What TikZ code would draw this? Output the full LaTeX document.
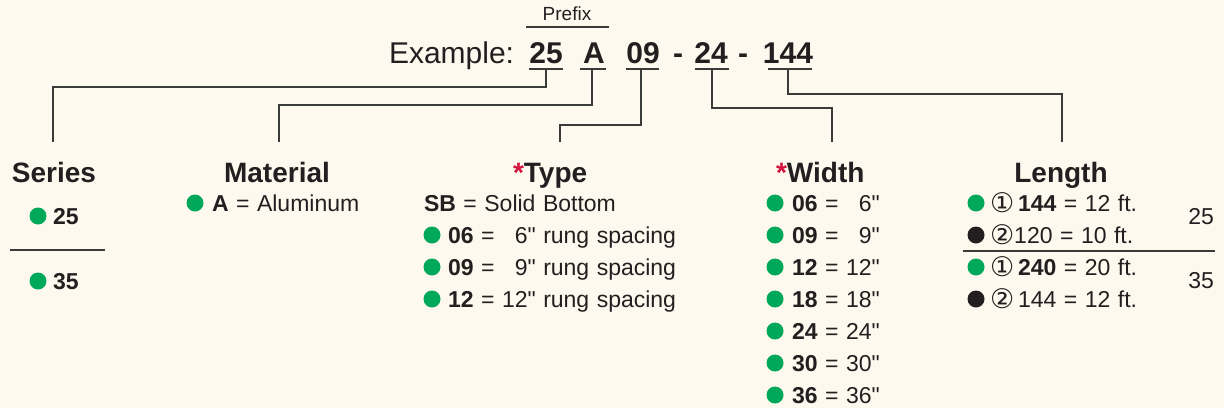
\documentclass[tikz,border=0pt]{standalone}
\usepackage{fontspec}
\setmainfont{Liberation Sans}
\newfontfamily\symfont{DejaVu Sans}
\newfontfamily\inchfont{Liberation Sans}
\newcommand\inchmark{{\inchfont"}}
\newcommand\entryfont{\fontsize{23}{23}\selectfont\spaceskip=7.5pt plus 1pt\relax}
\newcommand\circnum[1]{{\symfont\fontsize{27}{27}\selectfont\raisebox{-1pt}{#1}}}
\usetikzlibrary{calc}
\definecolor{bg}{HTML}{FDF9EE}
\definecolor{ink}{HTML}{231F20}
\definecolor{dotgreen}{HTML}{00A859}
\definecolor{starred}{HTML}{D6143F}
\definecolor{rulec}{HTML}{3A3A3A}
\begin{document}
\begin{tikzpicture}[x=1pt,y=-1pt,
  every node/.style={inner sep=0pt, outer sep=0pt, text=ink},
  code/.style={font=\fontsize{30}{30}\selectfont\bfseries, anchor=base},
  head/.style={font=\fontsize{28}{28}\selectfont\bfseries, anchor=base},
  entry/.style={font=\entryfont, anchor=base west},
  gdot/.style={circle, fill=dotgreen, minimum size=17pt},
  kdot/.style={circle, fill=ink, minimum size=17pt},
  conn/.style={draw=rulec, line width=1.3pt},
  ul/.style={draw=rulec, line width=1.3pt}]
\fill[bg] (0,0) rectangle (1224,408);
\useasboundingbox (0,0) rectangle (1224,408);

% prefix and example
\node[font=\fontsize{19}{19}\selectfont, anchor=base] (prefix) at (567,20) {Prefix};
\draw[ul] ($(prefix.base)+(-41,7)$) -- ($(prefix.base)+(42,7)$);
\node[font=\fontsize{30}{30}\selectfont, anchor=base west] (ex) at (389,63) {Example:};
\node[code] (c25) at (546,63) {25};
\node[code] (cA) at (594,63) {A};
\node[code] (c09) at (643,63) {09};
\node[code] (d1) at (678,63) {-};
\node[code] (c24) at (711,63) {24};
\node[code] (d2) at (743,63) {-};
\node[code] (c144) at (788,63) {144};

\draw[ul] ($(c25.base)+(-17,6)$) -- ($(c25.base)+(17,6)$);
\draw[ul] ($(cA.base)+(-14,6)$) -- ($(cA.base)+(12,6)$);
\draw[ul] ($(c09.base)+(-17,6)$) -- ($(c09.base)+(16,6)$);
\draw[ul] ($(c24.base)+(-16,6)$) -- ($(c24.base)+(18,6)$);
\draw[ul] ($(c144.base)+(-20,6)$) -- ($(c144.base)+(24,6)$);

% headings
\node[head] (series) at (54,182) {Series};
\node[head] (material) at (277,182) {Material};
\node[head, anchor=base west] (type) at (513,182) {\textcolor{starred}{*}Type};
\node[head, anchor=base west] (width) at (776,182) {\textcolor{starred}{*}Width};
\node[head] (length) at (1061,182) {Length};

\coordinate (t1) at (53,142);
\coordinate (t2) at (279,142);
\coordinate (t3) at (560,142);
\coordinate (t4) at (832,142);
\coordinate (t5) at (1062,142);

% connectors
\draw[conn] (546,69) -- (546,87) -| (t1);
\draw[conn] (592,69) -- (592,105) -| (t2);
\draw[conn] (641,69) -- (641,125) -| (t3);
\draw[conn] (712,69) -- (712,108) -| (t4);
\draw[conn] (788,69) -- (788,94) -| (t5);

% series
\node[gdot] (sd1) at (38,216) {};
\node[entry] (s25) at (53,224) {\textbf{25}};
\draw[ul] (10,250) -- (105,250);
\node[gdot] (sd2) at (38,281) {};
\node[entry] (s35) at (53,289) {\textbf{35}};

% material
\node[gdot] (md1) at (195,203) {};
\node[entry] (m1) at (212,211) {\textbf{A} = Aluminum};

% type
\node[entry] (ty0) at (424,211) {\textbf{SB} = Solid Bottom};
\node[gdot] (tyd1) at (432,235) {};
\node[entry] (ty1) at (448,243) {\textbf{06} = \hphantom{1}6\inchmark{} rung spacing};
\node[gdot] (tyd2) at (432,267) {};
\node[entry] (ty2) at (448,275) {\textbf{09} = \hphantom{1}9\inchmark{} rung spacing};
\node[gdot] (tyd3) at (432,299) {};
\node[entry] (ty3) at (448,307) {\textbf{12} = 12\inchmark{} rung spacing};

% width
\node[gdot] (wd1) at (775,203) {};
\node[entry] (w1) at (792,211) {\textbf{06} = \hphantom{1}6\inchmark};
\node[gdot] (wd2) at (775,235) {};
\node[entry] (w2) at (792,243) {\textbf{09} = \hphantom{1}9\inchmark};
\node[gdot] (wd3) at (775,267) {};
\node[entry] (w3) at (792,275) {\textbf{12} = 12\inchmark};
\node[gdot] (wd4) at (775,299) {};
\node[entry] (w4) at (792,307) {\textbf{18} = 18\inchmark};
\node[gdot] (wd5) at (775,331) {};
\node[entry] (w5) at (792,339) {\textbf{24} = 24\inchmark};
\node[gdot] (wd6) at (775,363) {};
\node[entry] (w6) at (792,371) {\textbf{30} = 30\inchmark};
\node[gdot] (wd7) at (775,395) {};
\node[entry] (w7) at (792,403) {\textbf{36} = 36\inchmark};

% length
\node[gdot] (ld1) at (976,203) {};
\node[entry] (l1) at (990,211) {\circnum{①}\,\textbf{144} = 12 ft.};
\node[kdot] (ld2) at (976,235) {};
\node[entry] (l2) at (990,243) {\circnum{②}120 = 10 ft.};
\draw[ul] (963,251) -- (1215,251);
\node[gdot] (ld3) at (976,267) {};
\node[entry] (l3) at (990,275) {\circnum{①}\,\textbf{240} = 20 ft.};
\node[kdot] (ld4) at (976,299) {};
\node[entry] (l4) at (990,307) {\circnum{②}\,144 = 12 ft.};
\node[entry, anchor=base east] (l25) at (1214,224) {25};
\node[entry, anchor=base east] (l35) at (1214,288) {35};
\end{tikzpicture}
\end{document}
